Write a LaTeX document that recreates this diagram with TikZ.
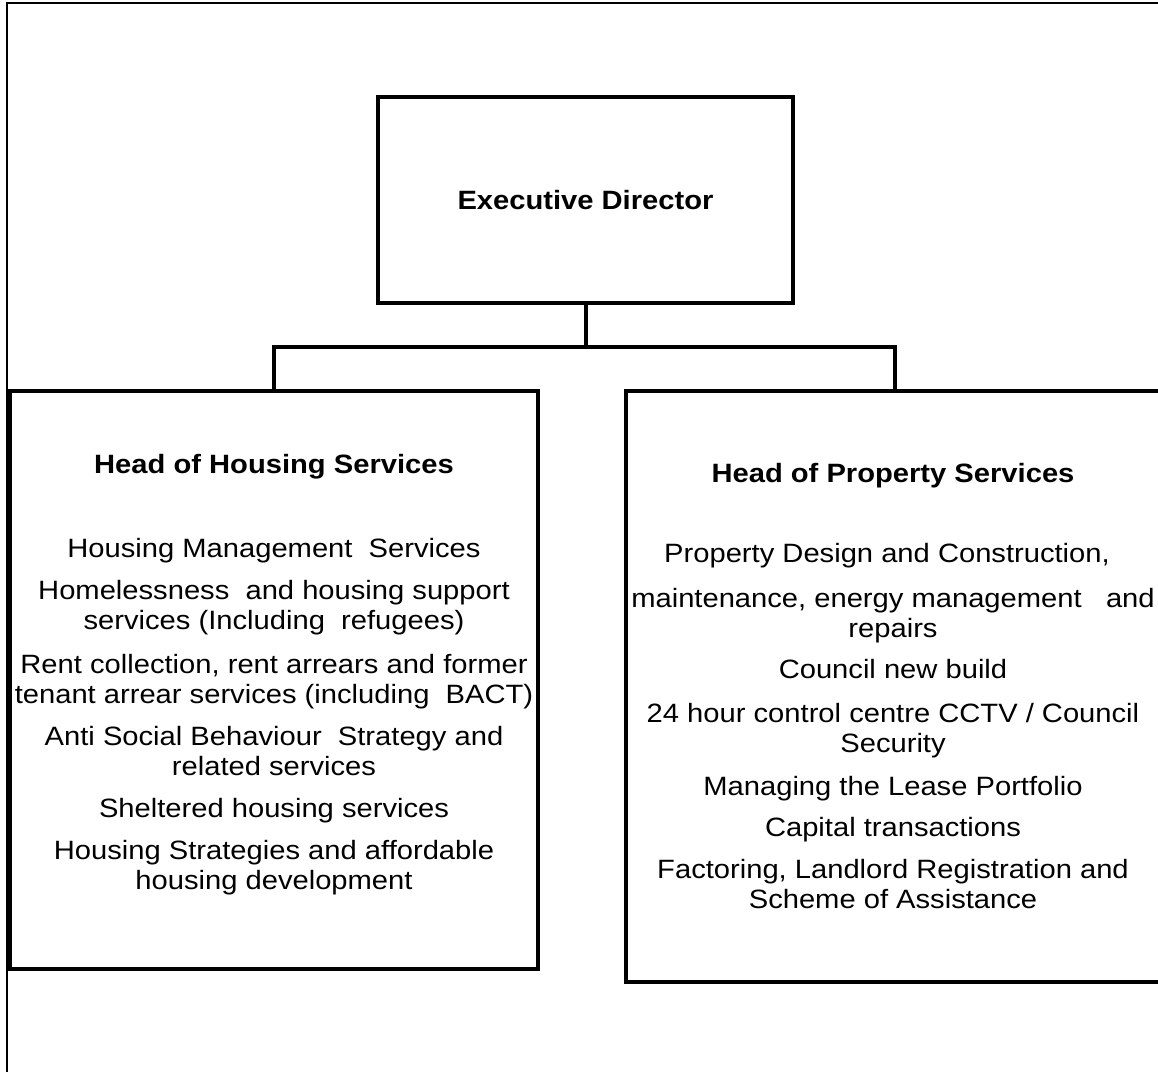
\documentclass[tikz,border=0pt]{standalone}
\usepackage{fontspec}
\setmainfont{Liberation Sans}[FakeStretch=1.1]
\begin{document}
\begin{tikzpicture}[x=1pt,y=-1pt,
  box/.style={draw, rectangle, line width=4pt, outer sep=0pt, inner sep=0pt},
  conn/.style={line width=4pt},
  frame/.style={line width=1.8pt},
  txt/.style={inner sep=0pt, text height=20pt, text depth=6pt,
    font=\fontsize{26.5}{30}\selectfont},
  head/.style={txt, font=\fontsize{26.5}{30}\selectfont\bfseries},
  duty/.style={txt, align=center}]
\useasboundingbox (0,0) rectangle (1158,1071);
\clip (0,0) rectangle (1158,1071);

% page frame: top and left rules only
\coordinate (fbl) at (7,1075);
\coordinate (ftl) at (7,3.3);
\coordinate (ftr) at (1162,3.3);
\draw[frame] (fbl) -- (ftl) -- (ftr);

% boxes
\node[box, minimum width=415pt, minimum height=206pt] (exec) at (585.5,200) {};
\node[box, minimum width=528pt, minimum height=578pt] (housing) at (274,680) {};
\node[box, minimum width=538pt, minimum height=591pt] (property) at (895,686.5) {};

% connectors
\coordinate (bus) at (585.5,347);
\draw[conn] (exec.south) -- (bus);
\draw[conn] (housing.north) |- (bus) -| (property.north);

% titles
\node[head] (exectitle) at (585.5,202.5) {Executive Director};
\node[head] (hhead) at (274,466.5) {Head of Housing Services};
\node[head] (phead) at (893,475.5) {Head of Property Services};

% housing duties (multi-line nodes are placed by their last line)
\node[duty] (h1) at (274,550.5) {Housing Management~ Services};
\node[duty] (h2) at (274,622.5) {Homelessness~ and housing support\\services (Including~ refugees)};
\node[duty] (h3) at (274,696.5) {Rent collection, rent arrears and former\\tenant arrear services (including~ BACT)};
\node[duty] (h4) at (274,768.5) {Anti Social Behaviour~ Strategy and\\related services};
\node[duty] (h5) at (274,810.5) {Sheltered housing services};
\node[duty] (h6) at (274,882.5) {Housing Strategies and affordable\\housing development};

% property duties
\node[duty] (p1) at (887,555.5) {Property Design and Construction,};
\node[duty] (p2) at (893,630.5) {maintenance, energy management~~ and\\repairs};
\node[duty] (p3) at (893,671.5) {Council new build};
\node[duty] (p4) at (893,745.5) {24 hour control centre CCTV / Council\\Security};
\node[duty] (p5) at (893,788.5) {Managing the Lease Portfolio};
\node[duty] (p6) at (893,829.5) {Capital transactions};
\node[duty] (p7) at (893,901.5) {Factoring, Landlord Registration and\\Scheme of Assistance};
\end{tikzpicture}
\end{document}
